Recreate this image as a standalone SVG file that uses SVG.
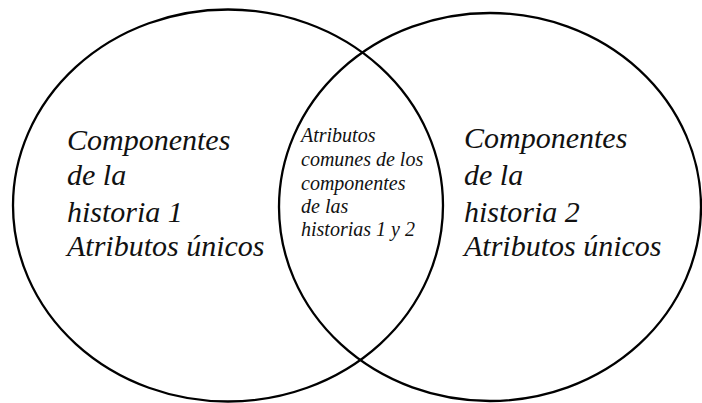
<svg xmlns="http://www.w3.org/2000/svg" width="702" height="403" viewBox="0 0 702 403">
<style>
.c{fill:none;stroke:#000;stroke-width:2.3}
</style>
<rect width="702" height="403" fill="#fff"/>
<g id="connectors"></g>
<g id="left">
<ellipse class="c" cx="228" cy="205.5" rx="215" ry="196"/>
<g font-family="Liberation Serif" font-style="italic" font-size="30" fill="#111">
<text x="67" y="150">Componentes</text>
<text x="67" y="185">de la</text>
<text x="67" y="222">historia 1</text>
<text x="67" y="256">Atributos únicos</text>
</g>
</g>
<g id="right">
<ellipse class="c" cx="490" cy="207" rx="211" ry="194"/>
<g font-family="Liberation Serif" font-style="italic" font-size="30" fill="#111">
<text x="464" y="148">Componentes</text>
<text x="464" y="185">de la</text>
<text x="464" y="222">historia 2</text>
<text x="464" y="256">Atributos únicos</text>
</g>
</g>
<g id="common">
<g font-family="Liberation Serif" font-style="italic" font-size="20" fill="#111">
<text x="301" y="142">Atributos</text>
<text x="301" y="166">comunes de los</text>
<text x="301" y="190">componentes</text>
<text x="301" y="213">de las</text>
<text x="301" y="236">historias 1 y 2</text>
</g>
</g>
</svg>
